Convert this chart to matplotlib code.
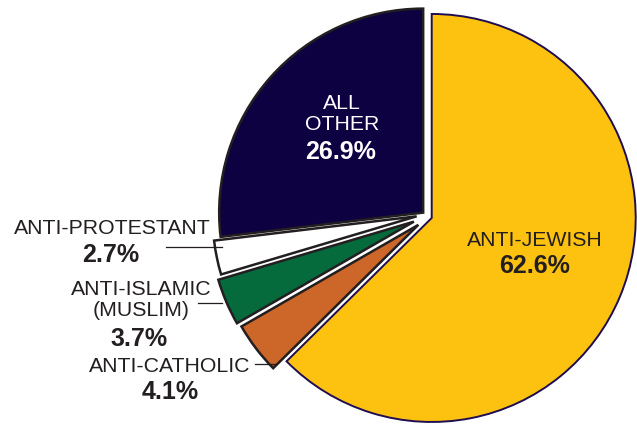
import numpy as np
import matplotlib.pyplot as plt
import matplotlib as mpl
mpl.rcParams['font.family'] = 'sans-serif'
mpl.rcParams['font.sans-serif'] = ['Liberation Sans', 'DejaVu Sans']

# slices, clockwise from 12 o'clock
categories = ['ANTI-JEWISH', 'ANTI-CATHOLIC', 'ANTI-ISLAMIC\n(MUSLIM)', 'ANTI-PROTESTANT', 'ALL\nOTHER']
shares = [62.6, 4.1, 3.7, 2.7, 26.9]
colors = ['#fdc20f', '#cc6629', '#066b3c', '#ffffff', '#0e0142']
edges = ['#1f0d52', '#231f20', '#231f20', '#231f20', '#231f20']
explode = [0.025, 0.06, 0.07, 0.05, 0.025]
nudge = [0, 1.8, 0, -1.8, 0]   # small sideways shift (px) to open gaps between thin slices

W, H = 637, 426
R = 204.0            # pie radius in pixels
cx, cy = 427, 216    # pie centre in pixels (from top left)

fig = plt.figure(figsize=(W / 100, H / 100), dpi=100)
ax = fig.add_axes([0, 0, 1, 1])
wedges, _ = ax.pie(shares, colors=colors, explode=explode, startangle=90,
                   counterclock=False, radius=1.0,
                   wedgeprops=dict(linewidth=1.8, joinstyle='miter'))
for w, ec, n in zip(wedges, edges, nudge):
    w.set_edgecolor(ec)
    mid = np.deg2rad((w.theta1 + w.theta2) / 2)
    x0, y0 = w.center
    # tangential direction (towards increasing angle)
    w.set_center((x0 - np.sin(mid) * n / R, y0 + np.cos(mid) * n / R))
wedges[0].set_linewidth(1.4)
ax.set_xlim(-cx / R, (W - cx) / R)
ax.set_ylim(-(H - cy) / R, cy / R)
ax.set_aspect('equal')
ax.axis('off')

def px(x, y):
    return x / W, 1 - y / H

txt = '#231f20'
# name label positions (pixel centres) and percent label positions
name_pos = [(535, 241), (170, 367), (141, 300), (112, 229), (342, 114)]
pct_pos = [(535, 266), (170, 392), (139, 339), (111, 255), (341, 152)]
text_col = [txt, txt, txt, txt, 'white']

for name, val, npos, ppos, c in zip(categories, shares, name_pos, pct_pos, text_col):
    fig.text(*px(*npos), name, ha='center', va='center', fontsize=15.3,
             color=c, linespacing=1.15)
    fig.text(*px(*ppos), f'{val:.1f}%', ha='center', va='center', fontsize=18,
             fontweight='bold', color=c)

# leader lines
for (x0, x1, y) in [(166, 222, 247), (198, 222, 303), (255, 275, 364)]:
    fig.add_artist(plt.Line2D([x0 / W, x1 / W], [1 - y / H, 1 - y / H],
                              color=txt, linewidth=0.9))

fig.savefig('out.png', dpi=100)
